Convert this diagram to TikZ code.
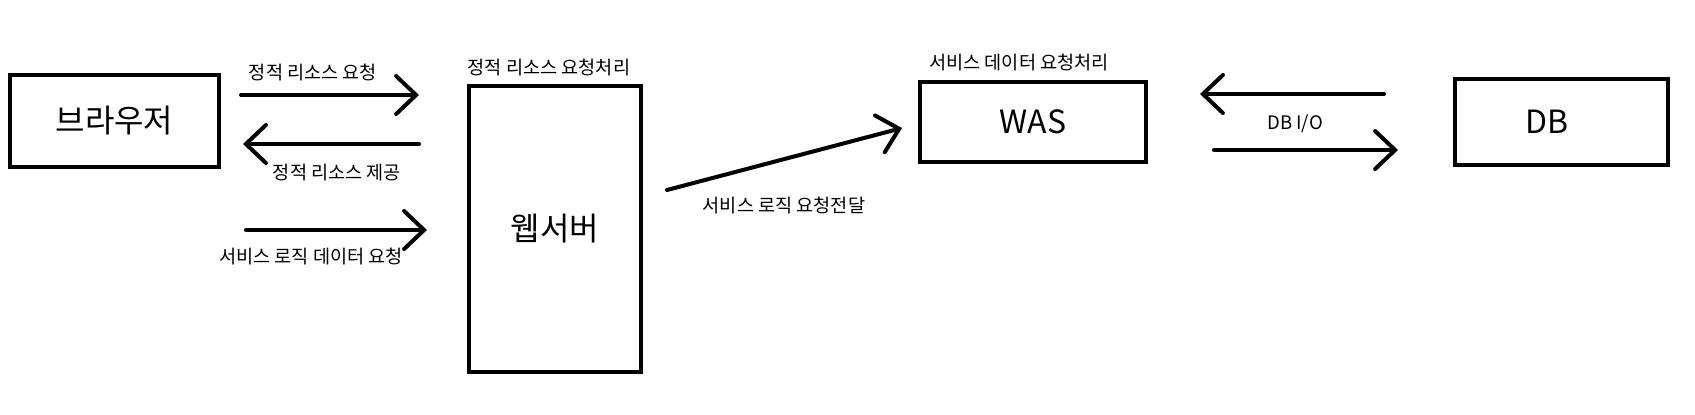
\documentclass[tikz,border=0pt]{standalone}
\usepackage{fontspec}
\setmainfont{Noto Sans CJK KR}
\usetikzlibrary{arrows.meta,positioning,calc}
\definecolor{Ink}{HTML}{000000}

\tikzset{
  box/.style={draw=Ink,line width=2pt,inner sep=0pt,font=\fontsize{16}{19}\selectfont},
  lbl/.style={inner sep=0pt,font=\fontsize{9.3}{11}\selectfont},
  arr/.style={draw=Ink,line width=2pt,line cap=round,-{Straight Barb[length=10pt,width=19pt,line cap=round]}}
}

\begin{document}
\begin{tikzpicture}[x=0.5pt,y=-0.5pt]
\useasboundingbox (0,0) rectangle (1695,414);
% boxes
\node[box,minimum width=104.5pt,minimum height=46pt] (browser) at (114.5,121) {브라우저};
\node[box,minimum width=86pt,minimum height=143pt] (web) at (555,229) {웹서버};
\node[box,minimum width=113pt,minimum height=40pt] (was) at (1033,122) {WAS};
\node[box,minimum width=106.5pt,minimum height=43pt] (db) at (1561.5,122) {\hspace*{-15pt}\raisebox{-2.5pt}{DB}};
% free ends of the arrows
\coordinate (reqA) at (241,95);  \coordinate (reqB) at (419,95);
\coordinate (resA) at (419,144); \coordinate (resB) at (243,144);
\coordinate (logA) at (246,230); \coordinate (logB) at (427,230);
\coordinate (fwdA) at (667,190); \coordinate (fwdB) at (902,128);
\coordinate (dbA) at (1384,94);  \coordinate (dbB) at (1200,94);
\coordinate (dbC) at (1214,150); \coordinate (dbD) at (1398,150);
\draw[arr] (reqA) -- (reqB);
\draw[arr] (resA) -- (resB);
\draw[arr] (logA) -- (logB);
\draw[arr] (fwdA) -- (fwdB);
\draw[arr] (dbA) -- (dbB);
\draw[arr] (dbC) -- (dbD);
% labels
\node[lbl] (reqT) at (313,72) {정적 리소스 요청};
\node[lbl] (resT) at (337,173) {정적 리소스 제공};
\node[lbl] (logT) at (311,256) {서비스 로직 데이터 요청};
\node[lbl] (webT) at (549,67) {정적 리소스 요청처리};
\node[lbl] (fwdT) at (784,205) {서비스 로직 요청전달};
\node[lbl] (wasT) at (1019,62) {서비스 데이터 요청처리};
\node[lbl] (dbT) at (1295,124) {DB I/O};
\end{tikzpicture}
\end{document}
